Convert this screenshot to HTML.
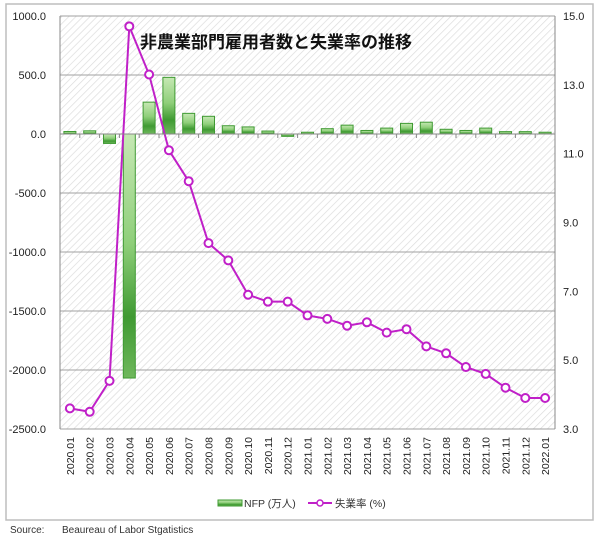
<!DOCTYPE html>
<html><head><meta charset="utf-8"><style>
body{margin:0;background:#fff;font-family:"Liberation Sans","Noto Sans CJK JP",sans-serif;}
svg text{font-family:"Liberation Sans","Noto Sans CJK JP",sans-serif;}
</style></head><body>
<svg id="c" width="600" height="538" xmlns="http://www.w3.org/2000/svg">
<defs>
<pattern id="hatch" width="5" height="5" patternUnits="userSpaceOnUse" patternTransform="rotate(45)">
<rect width="5" height="5" fill="#fff"/><line x1="0" y1="0" x2="0" y2="5" stroke="#dcdcdc" stroke-width="1.4"/>
</pattern>
<linearGradient id="bg" x1="0" y1="0" x2="0" y2="1">
<stop offset="0" stop-color="#c6e8b4"/><stop offset="0.45" stop-color="#8fcf7a"/><stop offset="0.75" stop-color="#3f9a32"/><stop offset="1" stop-color="#6fb85c"/>
</linearGradient>
</defs>
<rect x="6" y="4" width="587" height="516" fill="#fff" stroke="#bdbdbd" stroke-width="1.5"/>
<rect x="60" y="16" width="495" height="413" fill="url(#hatch)"/>
<g id="grid"></g>
<g id="bars"></g>
<g id="line"></g>
<g id="axes"></g>
<text x="140" y="48" font-size="17" font-weight="bold" fill="#111">非農業部門雇用者数と失業率の推移</text>
<g>
<rect x="218" y="500" width="24" height="6" fill="url(#bg)" stroke="#3f9a32" stroke-width="1"/>
<text x="244" y="507" font-size="10.5" fill="#333">NFP (万人)</text>
<line x1="308" y1="503" x2="332" y2="503" stroke="#c020c8" stroke-width="2"/>
<circle cx="320" cy="503" r="3" fill="#fff" stroke="#c020c8" stroke-width="1.5"/>
<text x="335" y="507" font-size="10.5" fill="#333">失業率 (%)</text>
</g>
<text x="10" y="533" font-size="10" fill="#333">Source:</text>
<text x="62" y="533" font-size="10" fill="#333">Beaureau of Labor Stgatistics</text>
</svg>
<script>
const categories=["2020.01","2020.02","2020.03","2020.04","2020.05","2020.06","2020.07","2020.08","2020.09","2020.10","2020.11","2020.12","2021.01","2021.02","2021.03","2021.04","2021.05","2021.06","2021.07","2021.08","2021.09","2021.10","2021.11","2021.12","2022.01"];
const nfp=[21,27,-80,-2068,270,480,175,150,70,60,25,-20,15,45,75,30,50,90,100,40,30,50,20,20,15];
const unemp=[3.6,3.5,4.4,14.7,13.3,11.1,10.2,8.4,7.9,6.9,6.7,6.7,6.3,6.2,6.0,6.1,5.8,5.9,5.4,5.2,4.8,4.6,4.2,3.9,3.9];
const leftTicks=[1000,500,0,-500,-1000,-1500,-2000,-2500];
const rightTicks=[15,13,11,9,7,5,3];
const X0=60,X1=555,Y0=16,Y1=429,NS="http://www.w3.org/2000/svg";
const yL=v=>Y0+(1000-v)/3500*(Y1-Y0);
const yR=v=>Y0+(15-v)/12*(Y1-Y0);
const bw=(X1-X0)/categories.length;
const xc=i=>X0+bw*(i+0.5);
function mk(t,a,p){const e=document.createElementNS(NS,t);for(const k in a)e.setAttribute(k,a[k]);p.appendChild(e);return e;}
const grid=document.getElementById('grid'),axes=document.getElementById('axes'),bars=document.getElementById('bars'),line=document.getElementById('line');
leftTicks.forEach(v=>{
 const g=mk('line',{x1:X0,x2:X1,y1:yL(v),y2:yL(v),stroke:'#a0a0a0','stroke-width':1},grid);
 
 
 const t=mk('text',{x:X0-14,y:yL(v)+4,'text-anchor':'end','font-size':11,fill:'#222'},axes);
 t.textContent=v.toFixed(1);
 
 
});
rightTicks.forEach(v=>{
 const t=mk('text',{x:X1+8,y:yR(v)+4,'font-size':11,fill:'#222'},axes);
 t.textContent=v.toFixed(1);
 
 
});
mk('line',{x1:X0,x2:X0,y1:Y0,y2:Y1,stroke:'#888'},axes);
mk('line',{x1:X1,x2:X1,y1:Y0,y2:Y1,stroke:'#888'},axes);
mk('line',{x1:X0,x2:X1,y1:yL(0),y2:yL(0),stroke:'#888'},axes);
nfp.forEach((v,i)=>{
 const y=Math.min(yL(v),yL(0)),h=Math.abs(yL(v)-yL(0));
 const r=mk('rect',{x:xc(i)-6,y:y,width:12,height:Math.max(h,1),fill:'url(#bg)',stroke:'#3f9a32','stroke-width':1},bars);
 
 
 mk('line',{x1:X0+bw*(i+1),x2:X0+bw*(i+1),y1:yL(0),y2:yL(0)+4,stroke:'#888'},axes);
});
categories.forEach((c,i)=>{
 const t=mk('text',{x:0,y:0,'font-size':10.5,fill:'#222','text-anchor':'end',transform:`translate(${xc(i)+4},437) rotate(-90)`},axes);
 t.textContent=c;
 
 
});
const p=mk('polyline',{points:unemp.map((v,i)=>xc(i)+','+yR(v)).join(' '),fill:'none',stroke:'#c020c8','stroke-width':2},line);


unemp.forEach((v,i)=>{
 const c=mk('circle',{cx:xc(i),cy:yR(v),r:4,fill:'#fff',stroke:'#c020c8','stroke-width':2},line);
 
 
});
</script>
</body></html>
